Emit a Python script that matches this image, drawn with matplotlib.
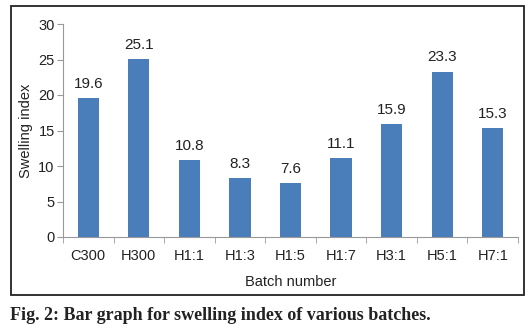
import matplotlib.pyplot as plt
from matplotlib.patches import Rectangle

plt.rcParams['font.family'] = ['Liberation Sans', 'DejaVu Sans']

batches = ['C300', 'H300', 'H1:1', 'H1:3', 'H1:5', 'H1:7', 'H3:1', 'H5:1', 'H7:1']
swelling = [19.6, 25.1, 10.8, 8.3, 7.6, 11.1, 15.9, 23.3, 15.3]

W, H = 530, 328
fig = plt.figure(figsize=(W / 100, H / 100), dpi=100)

# outer frame around the chart
fig.patches.append(Rectangle((11 / W, 1 - 295 / H), (524 - 11) / W, (295 - 6) / H,
                             transform=fig.transFigure, fill=False,
                             edgecolor='#222222', linewidth=1.3))

ax = fig.add_axes([63 / W, 1 - 237 / H, (518 - 63) / W, (237 - 24) / H])
x = range(len(batches))
bars = ax.bar(x, swelling, width=0.42, color='#4a7ebb')
for b, v in zip(bars, swelling):
    ax.text(b.get_x() + b.get_width() / 2, v + 1.0, f'{v}', ha='center', va='bottom',
            fontsize=11, color='#222222')

ax.set_xlim(-0.5, len(batches) - 0.5)
ax.set_ylim(0, 30)
ax.set_yticks(range(0, 31, 5))
ax.set_xticks(x)
ax.set_xticklabels(batches)
ax.set_xticks([i - 0.5 for i in range(len(batches) + 1)], minor=True)
ax.tick_params(axis='x', which='major', length=0, pad=9, labelsize=10.5, colors='#222222')
ax.tick_params(axis='x', which='minor', length=4, color='#999999', direction='out')
ax.tick_params(axis='y', length=4, color='#999999', labelsize=10.5, labelcolor='#222222', pad=2)
for s in ['top', 'right']:
    ax.spines[s].set_visible(False)
for s in ['left', 'bottom']:
    ax.spines[s].set_color('#999999')
ax.set_xlabel('Batch number', fontsize=10.5, labelpad=8, color='#222222')
ax.set_ylabel('Swelling index', fontsize=10.5, labelpad=4, color='#222222')

fig.text(10 / W, 1 - 316 / H, 'Fig. 2: Bar graph for swelling index of various batches.',
         family=['Liberation Serif', 'DejaVu Serif'], fontweight='bold', fontsize=13,
         va='center', ha='left', color='#222222')

fig.savefig('out.png', dpi=100)
